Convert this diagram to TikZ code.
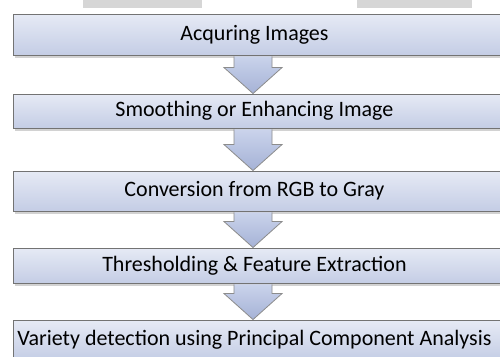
\documentclass[tikz,border=0pt]{standalone}
\usepackage{fontspec}
\setmainfont{Carlito}
\usetikzlibrary{calc,shadows}

\definecolor{stagetop}{HTML}{E6EAF5}
\definecolor{stagebot}{HTML}{C4CDE5}
\definecolor{arrowtop}{HTML}{CAD3EB}
\definecolor{arrowbot}{HTML}{A5B2D6}

\tikzset{
  stage/.style={draw=black!55, line width=0.9pt, top color=stagetop, bottom color=stagebot,
    anchor=west, minimum width=540pt, inner sep=0pt,
    font=\fontsize{22}{22}\selectfont, execute at begin node={\hspace*{-58pt}},
    drop shadow={shadow xshift=1.5pt, shadow yshift=-2.5pt, opacity=0.35}},
  flowarrow/.style={draw=black!45, line width=0.8pt, top color=arrowtop, bottom color=arrowbot}
}

\begin{document}
\begin{tikzpicture}[x=1pt, y=-1pt]
  \useasboundingbox (0,0) rectangle (500,356);
  \clip (0,0) rectangle (500,356);
  \fill[white] (0,0) rectangle (500,356);
  % strips left over along the top edge
  \fill[black!16] (83,0) rectangle (202,8);
  \fill[black!16] (357,0) rectangle (472,8);

  % the five stages
  \node[stage, minimum height=41pt] (acq) at (13,34.5) {Acquring Images};
  \node[stage, minimum height=34pt] (smooth) at (13,111) {Smoothing or Enhancing Image};
  \node[stage, minimum height=40pt] (gray) at (13,191) {Conversion from RGB to Gray};
  \node[stage, minimum height=35pt] (thresh) at (13,265.5) {Thresholding \& Feature Extraction};
  \node[stage, minimum height=40pt] (pca) at (13,340) {Variety detection using Principal Component Analysis};

  % block arrows between the stages
  \coordinate (axis) at (253,0);
  \foreach \a/\b in {acq/smooth, smooth/gray, gray/thresh, thresh/pca}
    \draw[flowarrow] ($(axis |- \a.south)+(-19,1)$) -- ($(axis |- \b.north)+(-19,-26)$)
      -- ++(-10,0) -- (axis |- \b.north) -- ($(axis |- \b.north)+(29,-26)$)
      -- ++(-10,0) -- ($(axis |- \a.south)+(19,1)$);
\end{tikzpicture}
\end{document}
